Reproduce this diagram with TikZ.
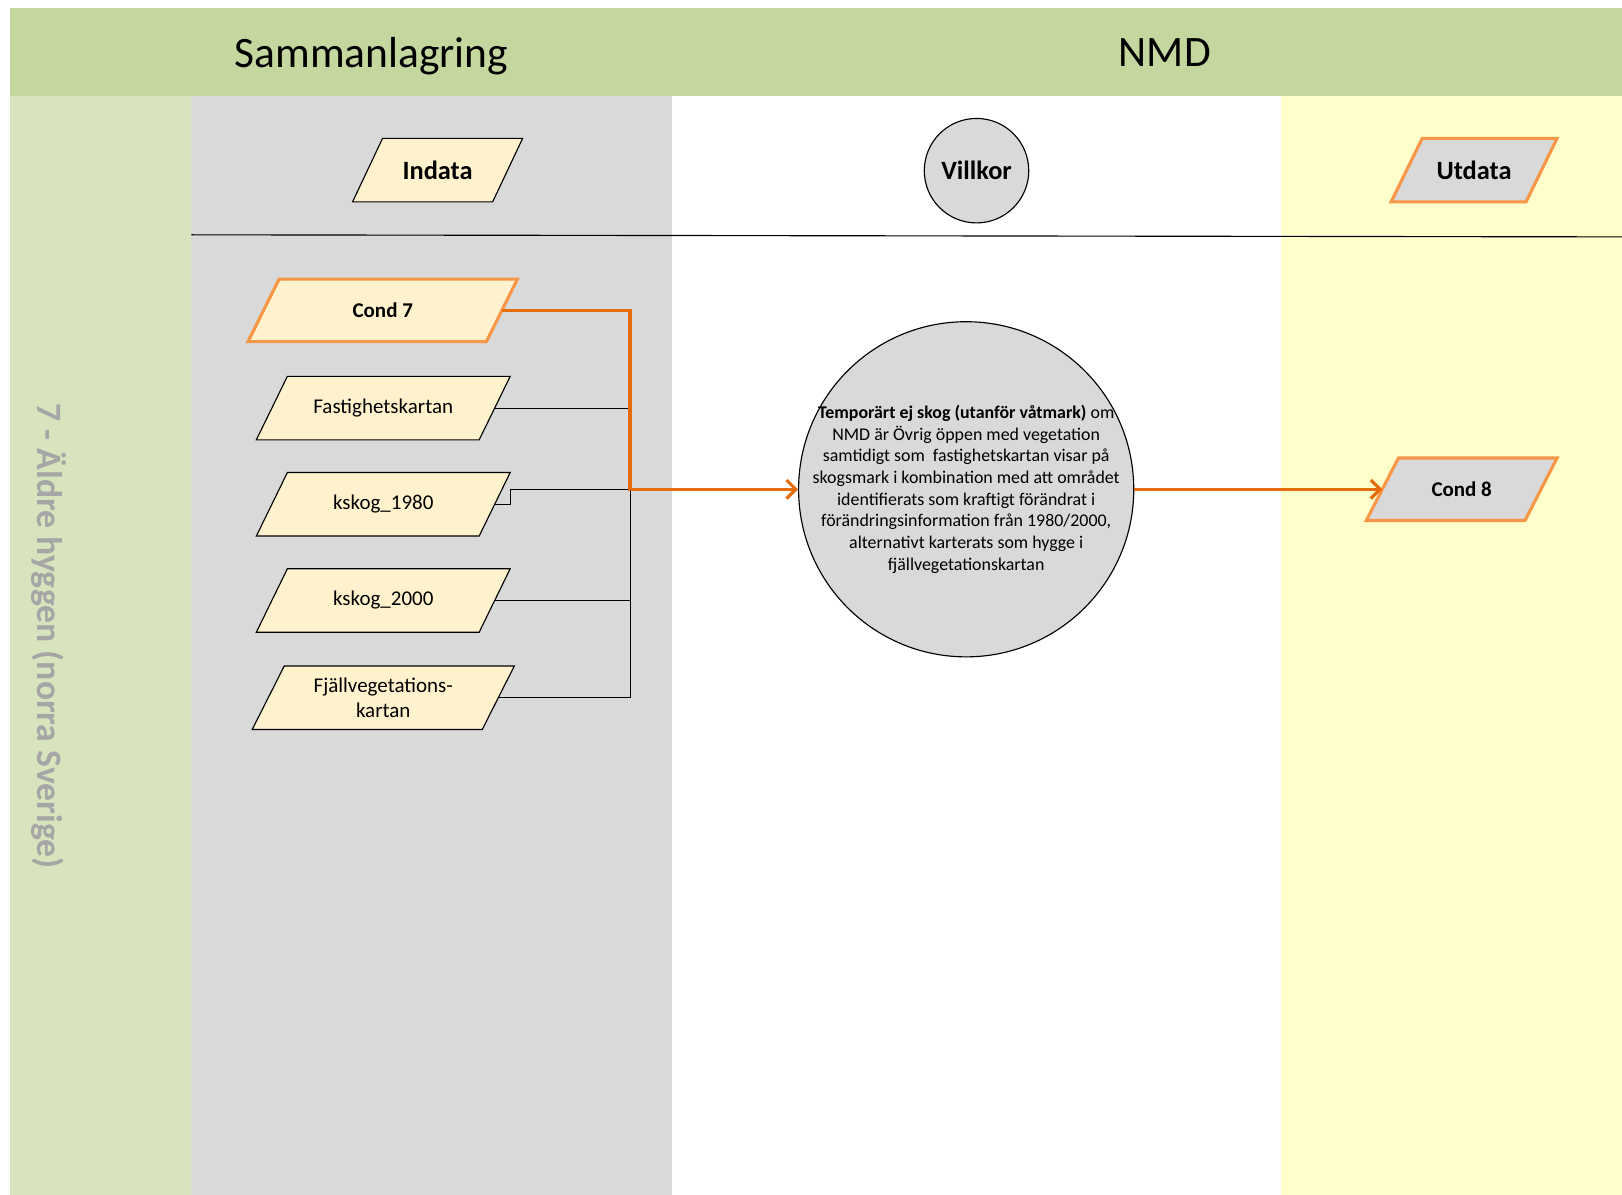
\documentclass[tikz,border=0pt]{standalone}
\usepackage{fontspec}
\setmainfont{Carlito}
\usetikzlibrary{arrows.meta}
\definecolor{hdr}{HTML}{C4D79F}
\definecolor{lanecol}{HTML}{D7E4BD}
\definecolor{graycol}{HTML}{D9D9D9}
\definecolor{yellcol}{HTML}{FFFFCC}
\definecolor{inputfill}{HTML}{FFF2CC}
\definecolor{lightorange}{HTML}{F79646}
\definecolor{darkorange}{HTML}{E46C0A}
\definecolor{labgray}{HTML}{A6A6A6}
\pgfdeclarelayer{lanes}
\pgfdeclarelayer{shapes}
\pgfsetlayers{lanes,shapes,main}
\newcommand\paradraw[3]{% #1 node, #2 style, #3 half slant
  \begin{pgfonlayer}{shapes}
  \draw[#2] ([xshift=-#3pt]#1.south west) -- ([xshift=#3pt]#1.north west)
    -- ([xshift=#3pt]#1.north east) -- ([xshift=-#3pt]#1.south east) -- cycle;
  \end{pgfonlayer}}
\begin{document}
\begin{tikzpicture}[x=1pt,y=-1pt,
  para/.style={rectangle, minimum height=61pt, inner sep=0pt, align=center},
  inshape/.style={fill=inputfill, draw=black, line width=1.1pt},
  orinshape/.style={fill=inputfill, draw=lightorange, line width=3pt},
  oroutshape/.style={fill=graycol, draw=lightorange, line width=3pt},
  intext/.style={para, font=\fontsize{20.3}{24}\selectfont},
  condtext/.style={para, font=\bfseries\fontsize{20.3}{24}\selectfont},
  hdrtext/.style={anchor=base, font=\fontsize{42}{50}\selectfont},
  colhead/.style={font=\bfseries\fontsize{25.5}{30}\selectfont},
  blkconn/.style={draw=black, line width=0.9pt},
  orconn/.style={draw=darkorange, line width=3pt,
    -{Straight Barb[length=9pt,width=18pt,line width=3pt]}},
]
\useasboundingbox (0,0) rectangle (1568,1155);
% lanes
\begin{pgfonlayer}{lanes}
\fill[hdr] (10,8) rectangle (1568,93);
\fill[lanecol] (10,93) rectangle (185,1155);
\fill[graycol] (185,93) rectangle (650,1155);
\fill[yellcol] (1238,93) rectangle (1568,1155);
\draw[line width=1.1pt] (185,227) -- (1568,229);
\end{pgfonlayer}
% headers
\node[hdrtext] (hsam) at (359,65) {Sammanlagring};
\node[hdrtext] (hnmd) at (1126,64) {NMD};
\node[rotate=-90, text=labgray, font=\bfseries\fontsize{34.5}{40}\selectfont] (lanelabel) at (47,615) {7 - Äldre hyggen (norra Sverige)};
% column heads
\node[para, colhead, minimum width=135pt] (indata) at (423,164.5) {Indata};
\paradraw{indata}{inshape}{14.5}
\node[circle, fill=graycol, draw=black, line width=1.1pt, colhead, minimum size=101pt, inner sep=0pt] (villkor) at (944,165) {Villkor};
\node[para, colhead, minimum width=130pt] (utdata) at (1425,164.5) {Utdata};
\paradraw{utdata}{oroutshape}{15}
% inputs
\node[condtext, minimum width=230pt, minimum height=60pt] (cond7) at (370,300) {Cond 7};
\paradraw{cond7}{orinshape}{15}
\node[intext, minimum width=215pt] (fast) at (370.5,394.5) {Fastighetskartan};
\paradraw{fast}{inshape}{15}
\node[intext, minimum width=215pt] (k1980) at (370.5,487.5) {kskog\_1980};
\paradraw{k1980}{inshape}{15}
\node[intext, minimum width=215pt] (k2000) at (370.5,580.5) {kskog\_2000};
\paradraw{k2000}{inshape}{15}
\node[intext, minimum width=222pt] (fjall) at (370.5,674.5) {Fjällvegetations-\\kartan};
\paradraw{fjall}{inshape}{15.5}
% condition
\node[circle, fill=graycol, draw=black, line width=1.1pt, minimum size=324pt, inner sep=0pt] (villkor1) at (934,473) {};
\node[align=center, inner sep=0pt, font=\fontsize{17.3}{21}\selectfont] (villkortext) at (934,473)
 {\textbf{Temporärt ej skog (utanför våtmark)} om\\
  NMD är Övrig öppen med vegetation\\
  samtidigt som\ \ fastighetskartan visar på\\
  skogsmark i kombination med att området\\
  identifierats som kraftigt förändrat i\\
  förändringsinformation från 1980/2000,\\
  alternativt karterats som hygge i\\
  fjällvegetationskartan};
% output
\node[condtext, minimum width=153pt, minimum height=60pt] (cond8) at (1413,473) {Cond 8};
\paradraw{cond8}{oroutshape}{15.5}
% connectors
\coordinate (junc) at (609,473);
\draw[blkconn] (fast.east) -| (junc);
\draw[blkconn] (k2000.east) -| (junc);
\draw[blkconn] (fjall.east) -| (junc);
\draw[blkconn] (k1980.east) -- ++(15,0) |- (villkor1.west);
\draw[orconn] (cond7.east) -| (junc) -- (villkor1.west);
\draw[orconn] (villkor1.east) -- (cond8.west);
\end{tikzpicture}
\end{document}
